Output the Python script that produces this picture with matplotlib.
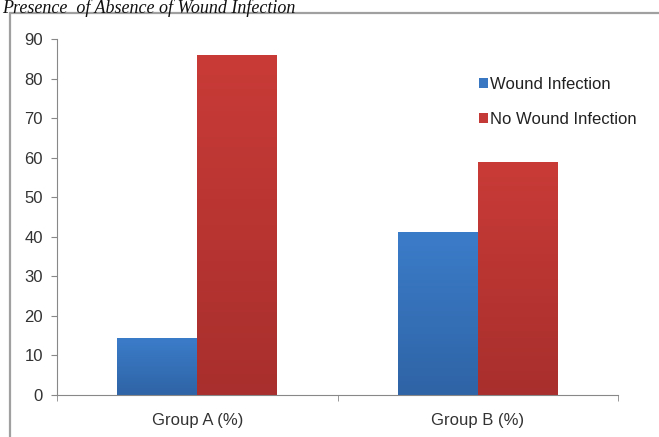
import matplotlib.pyplot as plt
import numpy as np
from matplotlib.colors import LinearSegmentedColormap
from matplotlib.patches import Rectangle

plt.rcParams['font.family'] = ['Liberation Sans', 'DejaVu Sans']

groups = ['Group A (%)', 'Group B (%)']
infection = [14.4, 41.2]
no_infection = [86.0, 58.8]
yticks = [0, 10, 20, 30, 40, 50, 60, 70, 80, 90]

fig = plt.figure(figsize=(6.59, 4.37), dpi=100)
ax = fig.add_axes([57 / 659, 42 / 437, 561 / 659, 356 / 437])

x = np.arange(len(groups))
w = 0.285
b1 = ax.bar(x - w / 2, infection, width=w, color='#3a77c3', label='Wound Infection')
b2 = ax.bar(x + w / 2, no_infection, width=w, color='#c43a37', label='No Wound Infection')

# soft vertical shading on each bar
shades = [(b1, ['#2f64a6', '#3b7cc9']), (b2, ['#a82f2d', '#c93b37'])]
grad = np.linspace(0, 1, 256).reshape(-1, 1)
for bars, cols in shades:
    cmap = LinearSegmentedColormap.from_list('shade', cols)
    for p in bars:
        x0, y0 = p.get_x(), p.get_y()
        im = ax.imshow(grad, cmap=cmap, origin='lower', aspect='auto',
                       extent=(x0, x0 + p.get_width(), y0, y0 + p.get_height()),
                       zorder=p.get_zorder() + 0.1)
        im.set_clip_path(p)

ax.set_xlim(-0.5, 1.5)
ax.set_ylim(0, 90)
ax.set_yticks(yticks)
ax.set_xticks(x)
ax.set_xticklabels(groups)
ax.set_xticks([-0.5, 0.5, 1.5], minor=True)
ax.tick_params(axis='x', which='major', length=0, pad=13, labelsize=12, labelcolor='#333333')
ax.tick_params(axis='x', which='minor', length=4, color='#888888', direction='out')
ax.tick_params(axis='y', length=4, color='#888888', pad=6, labelsize=12, labelcolor='#333333')

for s in ['top', 'right']:
    ax.spines[s].set_visible(False)
for s in ['left', 'bottom']:
    ax.spines[s].set_color('#888888')

ax.legend(loc='upper left', bbox_to_anchor=(0.726, 0.935), frameon=False,
          handlelength=0.5, handleheight=0.5, handletextpad=0.15,
          labelspacing=1.2, fontsize=12, labelcolor='#222222')

# outer frame around the chart
fig.patches.append(Rectangle((10 / 659, -0.05), 1.0, (424 / 437) + 0.05,
                             transform=fig.transFigure, fill=False,
                             edgecolor='#a0a0a0', linewidth=1.6))

fig.text(0.003, 1 - 13 / 437, 'Presence  of Absence of Wound Infection',
         family='Liberation Serif', style='italic', fontsize=13,
         color='#111111', va='baseline')

fig.savefig('out.png', dpi=100)
